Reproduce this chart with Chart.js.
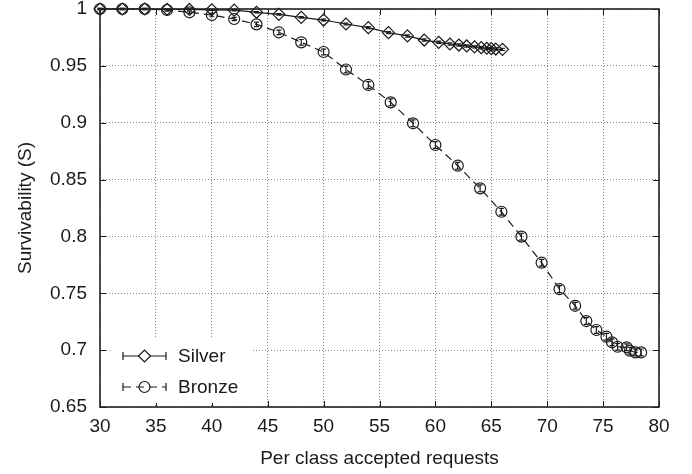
<!DOCTYPE html>
<html><head><meta charset="utf-8">
<script src="https://cdn.jsdelivr.net/npm/chart.js@4/dist/chart.umd.min.js"></script>
<style>html,body{margin:0;padding:0;background:#fff}#wrap{width:692px;height:474px}</style>
</head><body><div id="wrap"><canvas id="c" width="692" height="474"></canvas></div>
<script>
// ---- data ----
const seriesNames = ['Silver', 'Bronze'];
const silverX = [30,32,34,36,38,40,42,44,46,48,50,52,54,55.8,57.5,59,60.3,61.3,62.1,62.8,63.5,64.1,64.6,65.0,65.4,66.0];
const silverY = [1.0,1.0,1.0,0.9998,0.9996,0.9993,0.999,0.9971,0.9953,0.9927,0.9903,0.9868,0.9836,0.9792,0.9763,0.9727,0.9707,0.9692,0.9683,0.9675,0.9667,0.966,0.9655,0.9651,0.9648,0.9645];
const silverErr = [0.0005,0.0005,0.0005,0.0005,0.0005,0.0005,0.0006,0.0006,0.0007,0.0007,0.0008,0.0008,0.0009,0.0009,0.001,0.001,0.001,0.001,0.001,0.001,0.001,0.001,0.001,0.001,0.001,0.001];
const bronzeX = [30,32,34,36,38,40,42,44,46,48,50,52,54,56,58,60,62,64,65.9,67.7,69.5,71.1,72.5,73.5,74.4,75.3,75.8,76.3,77.1,77.4,77.9,78.4];
const bronzeY = [1.0,1.0,1.0,0.9991,0.9971,0.9947,0.9912,0.9865,0.9795,0.9707,0.9622,0.9468,0.9332,0.9179,0.8995,0.8804,0.8622,0.8423,0.8217,0.7998,0.7769,0.7537,0.739,0.7256,0.7177,0.7118,0.7069,0.703,0.7025,0.6995,0.698,0.698];
const bronzeErr = [0.0005,0.0005,0.0005,0.001,0.001,0.0015,0.0015,0.002,0.002,0.0025,0.0025,0.003,0.003,0.003,0.003,0.003,0.003,0.003,0.003,0.003,0.003,0.003,0.003,0.003,0.003,0.003,0.003,0.003,0.003,0.003,0.003,0.003];
const xTicks = [30,35,40,45,50,55,60,65,70,75,80];
const yTicks = [0.65,0.7,0.75,0.8,0.85,0.9,0.95,1];
const xTitle = 'Per class accepted requests';
const yTitle = 'Survivability (S)';

const FONT = 'Liberation Sans, Arial, Helvetica, sans-serif';
const INK = '#1a1a1a';

function pts(xs, ys) { return xs.map((x, i) => ({x: x, y: ys[i]})); }

const errPlugin = {
  id: 'errbars',
  afterDatasetsDraw(chart) {
    const ctx = chart.ctx, xs = chart.scales.x, ys = chart.scales.y;
    const sets = [[silverX, silverY, silverErr], [bronzeX, bronzeY, bronzeErr]];
    ctx.save();
    ctx.strokeStyle = INK; ctx.lineWidth = 1.2; ctx.setLineDash([]);
    sets.forEach(([X, Y, E]) => {
      X.forEach((x, i) => {
        const px = xs.getPixelForValue(x);
        const p1 = ys.getPixelForValue(Y[i] + E[i]);
        const p2 = ys.getPixelForValue(Y[i] - E[i]);
        ctx.beginPath();
        ctx.moveTo(px, p1); ctx.lineTo(px, p2);
        ctx.moveTo(px - 2.5, p1); ctx.lineTo(px + 2.5, p1);
        ctx.moveTo(px - 2.5, p2); ctx.lineTo(px + 2.5, p2);
        ctx.stroke();
      });
    });
    ctx.restore();
  }
};

const framePlugin = {
  id: 'frame',
  afterDatasetsDraw(chart) {
    const ctx = chart.ctx, a = chart.chartArea, xs = chart.scales.x, ys = chart.scales.y;
    ctx.save();
    ctx.setLineDash([]);
    ctx.strokeStyle = INK; ctx.lineWidth = 1;
    ctx.beginPath();
    xTicks.forEach(t => {
      const p = Math.round(xs.getPixelForValue(t)) + 0.5;
      ctx.moveTo(p, a.bottom); ctx.lineTo(p, a.bottom - 6);
      ctx.moveTo(p, a.top); ctx.lineTo(p, a.top + 6);
    });
    yTicks.forEach(t => {
      const p = Math.round(ys.getPixelForValue(t)) + 0.5;
      ctx.moveTo(a.left, p); ctx.lineTo(a.left + 6, p);
      ctx.moveTo(a.right, p); ctx.lineTo(a.right - 6, p);
    });
    ctx.stroke();
    ctx.lineWidth = 1.6; ctx.strokeStyle = '#222';
    ctx.strokeRect(a.left, a.top, a.right - a.left, a.bottom - a.top);
    ctx.restore();
  }
};

const legendPlugin = {
  id: 'customLegend',
  afterDraw(chart) {
    const ctx = chart.ctx, a = chart.chartArea;
    const bx = a.left + 10, by = a.bottom - 69, bw = 141, bh = 65;
    ctx.save();
    ctx.fillStyle = '#fff';
    ctx.fillRect(bx, by, bw, bh);
    const x1 = a.left + 23, x2 = a.left + 66, xm = (x1 + x2) / 2;
    const rows = [by + 18, by + 49];
    chart.data.datasets.forEach((ds, i) => {
      const y = rows[i];
      ctx.strokeStyle = INK; ctx.lineWidth = 1.2;
      ctx.setLineDash(ds.borderDash || []);
      ctx.beginPath(); ctx.moveTo(x1, y); ctx.lineTo(x2, y); ctx.stroke();
      ctx.setLineDash([]);
      ctx.beginPath();
      ctx.moveTo(x1, y - 4); ctx.lineTo(x1, y + 4);
      ctx.moveTo(x2, y - 4); ctx.lineTo(x2, y + 4);
      ctx.stroke();
      // marker
      ctx.fillStyle = '#fff';
      ctx.beginPath();
      if (ds.pointStyle === 'rectRot') {
        ctx.moveTo(xm - 6, y); ctx.lineTo(xm, y - 6); ctx.lineTo(xm + 6, y); ctx.lineTo(xm, y + 6); ctx.closePath();
        ctx.fill(); ctx.stroke();
      } else {
        ctx.arc(xm, y, 5.5, 0, Math.PI * 2);
        ctx.stroke();
      }
      ctx.fillStyle = INK;
      ctx.font = '19px ' + FONT;
      ctx.textAlign = 'left'; ctx.textBaseline = 'middle';
      ctx.fillText(ds.label, a.left + 78, y + 1);
    });
    ctx.restore();
  }
};

new Chart(document.getElementById('c'), {
  type: 'line',
  data: {
    datasets: [
      {
        label: seriesNames[0],
        data: pts(silverX, silverY),
        borderColor: INK, borderWidth: 1.2,
        pointStyle: 'rectRot', pointRadius: 6, pointBorderWidth: 1.2,
        pointBorderColor: INK, pointBackgroundColor: 'rgba(0,0,0,0)',
        tension: 0, clip: false
      },
      {
        label: seriesNames[1],
        data: pts(bronzeX, bronzeY),
        borderColor: INK, borderWidth: 1.2, borderDash: [8, 5],
        pointStyle: 'circle', pointRadius: 5.5, pointBorderWidth: 1.2,
        pointBorderColor: INK, pointBackgroundColor: 'rgba(0,0,0,0)',
        tension: 0, clip: false
      }
    ]
  },
  options: {
    responsive: false, animation: false, devicePixelRatio: 1,
    layout: {padding: {top: 9, right: 33, left: 0, bottom: 0}},
    plugins: {legend: {display: false}, tooltip: {enabled: false}},
    scales: {
      x: {
        type: 'linear', min: 30, max: 80,
        afterBuildTicks: s => { s.ticks = xTicks.map(v => ({value: v})); },
        afterFit: s => { s.height = 67; s.paddingLeft = 0; s.paddingRight = 0; },
        grid: {color: '#8a8a8a', lineWidth: 1, drawTicks: false},
        border: {display: false, dash: [1, 2]},
        ticks: {color: INK, font: {family: FONT, size: 19}, padding: 8, maxRotation: 0, autoSkip: false,
                callback: v => String(v)},
        title: {display: true, text: xTitle, color: INK, font: {family: FONT, size: 19}, padding: {top: 0, bottom: 4}}
      },
      y: {
        type: 'linear', min: 0.65, max: 1,
        afterBuildTicks: s => { s.ticks = yTicks.map(v => ({value: v})); },
        afterFit: s => { s.width = 100; s.paddingTop = 0; s.paddingBottom = 0; },
        grid: {color: '#8a8a8a', lineWidth: 1, drawTicks: false},
        border: {display: false, dash: [1, 2]},
        ticks: {color: INK, font: {family: FONT, size: 19}, padding: 13, autoSkip: false,
                callback: v => String(parseFloat(v.toFixed(2)))},
        title: {display: true, text: yTitle, color: INK, font: {family: FONT, size: 19}, padding: {top: 14, bottom: 0}}
      }
    }
  },
  plugins: [errPlugin, framePlugin, legendPlugin]
});
</script>
</body></html>
